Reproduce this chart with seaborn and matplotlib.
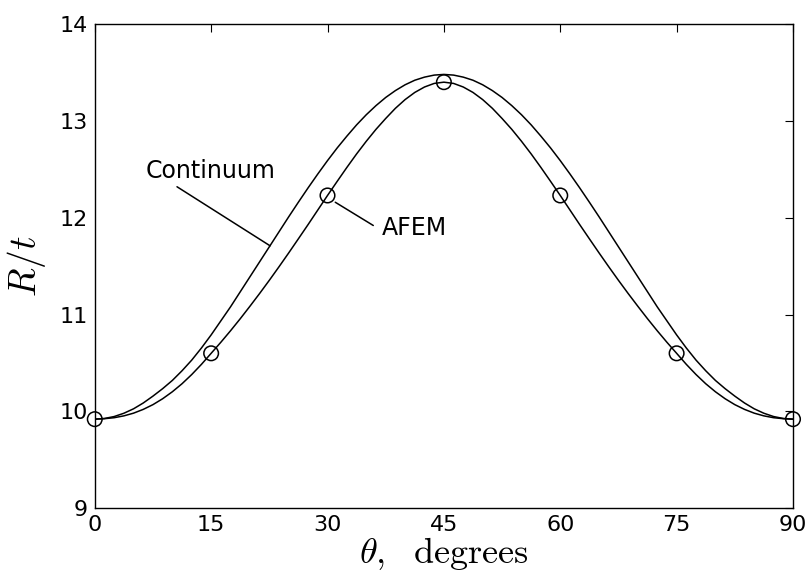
import matplotlib
matplotlib.use("Agg")
import matplotlib.pyplot as plt
import seaborn as sns
import pandas as pd

# angle (degrees) and R/t
theta = [0, 1.25, 2.5, 3.75, 5, 6.25, 7.5, 8.75, 10, 11.25, 12.5, 13.75, 15, 16.25, 17.5, 18.75,
         20, 21.25, 22.5, 23.75, 25, 26.25, 27.5, 28.75, 30, 31.25, 32.5, 33.75, 35, 36.25, 37.5,
         38.75, 40, 41.25, 42.5, 43.75, 45, 46.25, 47.5, 48.75, 50, 51.25, 52.5, 53.75, 55, 56.25,
         57.5, 58.75, 60, 61.25, 62.5, 63.75, 65, 66.25, 67.5, 68.75, 70, 71.25, 72.5, 73.75, 75,
         76.25, 77.5, 78.75, 80, 81.25, 82.5, 83.75, 85, 86.25, 87.5, 88.75, 90]

continuum = [9.920, 9.927, 9.947, 9.981, 10.027, 10.087, 10.158, 10.235, 10.320, 10.420, 10.530,
             10.655, 10.790, 10.935, 11.080, 11.235, 11.390, 11.545, 11.700, 11.855, 12.010,
             12.161, 12.309, 12.452, 12.590, 12.721, 12.843, 12.959, 13.064, 13.158, 13.242,
             13.313, 13.373, 13.420, 13.452, 13.473, 13.480,
             13.473, 13.452, 13.420, 13.373, 13.313, 13.242, 13.158, 13.064, 12.959, 12.843,
             12.721, 12.590, 12.452, 12.309, 12.161, 12.010, 11.855, 11.700, 11.545, 11.390,
             11.235, 11.080, 10.935, 10.790, 10.655, 10.530, 10.420, 10.320, 10.235, 10.158,
             10.087, 10.027, 9.981, 9.947, 9.927, 9.920]

afem = [9.920, 9.925, 9.935, 9.954, 9.982, 10.021, 10.070, 10.131, 10.203, 10.286, 10.381,
        10.486, 10.600, 10.714, 10.833, 10.957, 11.086, 11.218, 11.354, 11.494, 11.637, 11.783,
        11.930, 12.080, 12.230, 12.376, 12.520, 12.659, 12.790, 12.913, 13.025, 13.130, 13.220,
        13.294, 13.350, 13.387, 13.400,
        13.387, 13.350, 13.294, 13.220, 13.130, 13.025, 12.913, 12.790, 12.659, 12.520, 12.376,
        12.230, 12.080, 11.930, 11.783, 11.637, 11.494, 11.354, 11.218, 11.086, 10.957, 10.833,
        10.714, 10.600, 10.486, 10.381, 10.286, 10.203, 10.131, 10.070, 10.021, 9.982, 9.954,
        9.935, 9.925, 9.920]

# AFEM sample points (open circles)
theta_pts = [0, 15, 30, 45, 60, 75, 90]
afem_pts = [9.92, 10.60, 12.23, 13.40, 12.23, 10.60, 9.92]

xticks = [0, 15, 30, 45, 60, 75, 90]
yticks = [9, 10, 11, 12, 13, 14]

curves = pd.DataFrame({"theta": theta, "continuum": continuum, "afem": afem})
points = pd.DataFrame({"theta": theta_pts, "afem": afem_pts})

sns.set_style("white")
plt.rcParams["font.family"] = ["DejaVu Sans"]
plt.rcParams["mathtext.fontset"] = "cm"
plt.rcParams["text.color"] = "black"
plt.rcParams["axes.labelcolor"] = "black"

fig = plt.figure(figsize=(8.1, 5.73), dpi=100)
ax = fig.add_axes([0.117, 0.113, 0.862, 0.845])

sns.lineplot(data=curves, x="theta", y="continuum", ax=ax, color="black", lw=1.1,
             solid_joinstyle="round")
sns.lineplot(data=curves, x="theta", y="afem", ax=ax, color="black", lw=1.1,
             solid_joinstyle="round")
sns.scatterplot(data=points, x="theta", y="afem", ax=ax, marker="o", s=110,
                facecolor="none", edgecolor="black", linewidth=1.1, zorder=3, clip_on=False)

ax.set_xlim(0, 90)
ax.set_ylim(9, 14)
ax.set_xticks(xticks)
ax.set_yticks(yticks)
ax.tick_params(direction="in", length=5.5, width=0.8, top=True, right=True,
               labelsize=16, pad=5, colors="black")
for sp in ax.spines.values():
    sp.set_color("black")
    sp.set_linewidth(1.0)

ax.set_xlabel(r"$\theta,\ \ \mathrm{degrees}$", fontsize=26, labelpad=0)
ax.set_ylabel(r"$R/t$", fontsize=27, labelpad=8)

# labels with leader lines
ax.annotate("", xy=(22.6, 11.71), xytext=(10.6, 12.32),
            arrowprops=dict(arrowstyle="-", color="black", lw=1.1, shrinkA=0, shrinkB=0))
ax.text(6.5, 12.41, "Continuum", fontsize=17, ha="left", va="baseline")

ax.annotate("", xy=(31.0, 12.16), xytext=(35.9, 11.92),
            arrowprops=dict(arrowstyle="-", color="black", lw=1.1, shrinkA=0, shrinkB=0))
ax.text(37.0, 11.82, "AFEM", fontsize=17, ha="left", va="baseline")

fig.savefig("out.png", dpi=100)
